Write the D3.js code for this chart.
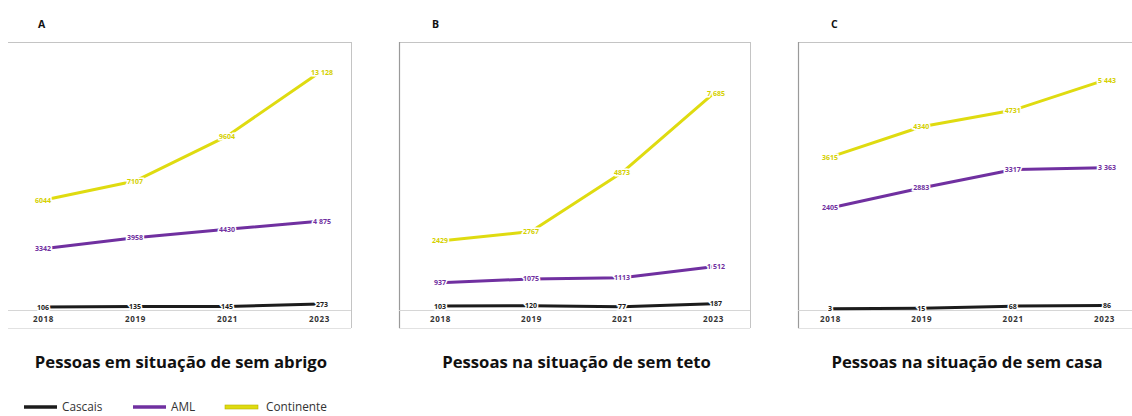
<!DOCTYPE html>
<html>
<head>
<meta charset="utf-8">
<script src="https://cdn.jsdelivr.net/npm/d3@7/dist/d3.min.js"></script>
<style>
  html, body { margin: 0; padding: 0; background: #fff; }
  svg { display: block; }
</style>
</head>
<body>
<svg id="chart" width="1132" height="416"></svg>
<script>
// Pessoas em situação de sem abrigo — Cascais, AML e Continente
const years = ["2018", "2019", "2021", "2023"];
const panelLetters = ["A", "B", "C"];
const panelTitles = [
  "Pessoas em situação de sem abrigo",
  "Pessoas na situação de sem teto",
  "Pessoas na situação de sem casa"
];
const seriesNames = ["Cascais", "AML", "Continente"];
// values per panel: [sem abrigo, sem teto, sem casa]
const cascais    = [[106, 135, 145, 273], [103, 120, 77, 187], [3, 15, 68, 86]];
const aml        = [[3342, 3958, 4430, 4875], [937, 1075, 1113, 1512], [2405, 2883, 3317, 3363]];
const continente = [[6044, 7107, 9604, 13128], [2429, 2767, 4873, 7685], [3615, 4340, 4731, 5443]];
const yMax = [14000, 9000, 6000];

// layout
const colors = { Cascais: "#1c1c1c", AML: "#7030a0", Continente: "#dfdb10" };
const frames = [
  { x0: 8,   x1: 351,  left: false },
  { x0: 399, x1: 750,  left: true },
  { x0: 798, x1: 1140, left: true }
];
const plotX = [[43, 319], [440, 713], [830, 1104]];
const frameTop = 42, frameBottom = 328, baseY = 310, yZero = 309, yTop = 57;

const svg = d3.select("#chart");
const fmtPlain = d3.format("d");
const fmtGroup = d3.formatLocale({ decimal: ",", thousands: " ", grouping: [3], currency: ["", "€"] }).format(",d");

panelTitles.forEach((title, p) => {
  const fr = frames[p];
  const g = svg.append("g");

  // frame
  const frameStroke = "#c4c4c4";
  g.append("line").attr("x1", fr.x0).attr("x2", fr.x1).attr("y1", frameTop + 0.5).attr("y2", frameTop + 0.5)
    .attr("stroke", frameStroke);
  g.append("line").attr("x1", fr.x1 + 0.5).attr("x2", fr.x1 + 0.5).attr("y1", frameTop).attr("y2", frameBottom)
    .attr("stroke", frameStroke);
  g.append("line").attr("x1", fr.x0).attr("x2", fr.x1).attr("y1", frameBottom + 0.5).attr("y2", frameBottom + 0.5)
    .attr("stroke", "#e2e2e2");
  if (fr.left) {
    g.append("line").attr("x1", fr.x0 + 0.5).attr("x2", fr.x0 + 0.5).attr("y1", frameTop).attr("y2", frameBottom)
      .attr("stroke", "#9a9a9a").attr("stroke-width", 1.2);
  }

  const x = d3.scalePoint().domain(years).range(plotX[p]);
  const y = d3.scaleLinear().domain([0, yMax[p]]).range([yZero, yTop]);

  // baseline
  g.append("line").attr("x1", fr.x0).attr("x2", fr.x1).attr("y1", baseY + 0.5).attr("y2", baseY + 0.5)
    .attr("stroke", "#d6d6d6");

  // x axis labels
  const xAxis = d3.axisBottom(x).tickSize(0).tickPadding(0);
  const ax = g.append("g").attr("transform", `translate(0,${baseY + 6})`).call(xAxis);
  ax.select(".domain").remove();
  ax.selectAll("text")
    .attr("font-family", "'Open Sans', sans-serif")
    .attr("font-size", 8).attr("font-weight", 700).attr("fill", "#333")
    .attr("letter-spacing", 0.7);

  // panel letter
  svg.append("text").attr("x", fr.x0 + (p === 0 ? 30 : 33)).attr("y", 28)
    .attr("font-family", "'Open Sans', sans-serif").attr("font-size", 10.5).attr("font-weight", 700)
    .attr("fill", "#111").text(panelLetters[p]);

  // panel title
  svg.append("text").attr("x", (plotX[p][0] + plotX[p][1]) / 2).attr("y", 368)
    .attr("text-anchor", "middle")
    .attr("font-family", "'Open Sans', sans-serif").attr("font-size", 16.7).attr("font-weight", 700)
    .attr("fill", "#111").text(title);

  const series = [
    { name: "Cascais", values: cascais[p] },
    { name: "AML", values: aml[p] },
    { name: "Continente", values: continente[p] }
  ];

  const line = d3.line().x((d, i) => x(years[i])).y(d => y(d));

  series.forEach(s => {
    g.append("path").datum(s.values).attr("d", line)
      .attr("fill", "none").attr("stroke", colors[s.name]).attr("stroke-width", 3)
      .attr("stroke-linejoin", "round");
  });

  // data labels
  series.forEach(s => {
    g.selectAll(null).data(s.values).join("text")
      .attr("x", (d, i) => x(years[i]) + (i === years.length - 1 ? 3 : 0))
      .attr("y", d => y(d))
      .attr("dy", "0.35em")
      .attr("text-anchor", "middle")
      .attr("font-family", "'Open Sans', sans-serif")
      .attr("font-size", 7).attr("font-weight", 700)
      .attr("fill", s.name === "Continente" ? "#d4d000" : colors[s.name])
      .attr("stroke", "#fff").attr("stroke-width", 3).attr("paint-order", "stroke")
      .text((d, i) => i === years.length - 1 ? fmtGroup(d) : fmtPlain(d));
  });
});

// legend
const legendX = [24, 133, 225];
const lg = svg.append("g").attr("transform", "translate(0,407)");
seriesNames.forEach((name, i) => {
  if (name === "Continente") {
    lg.append("rect").attr("x", legendX[i]).attr("y", -2).attr("width", 33).attr("height", 4)
      .attr("fill", colors[name]).attr("stroke", "#b8b400").attr("stroke-width", 0.6);
  } else {
    lg.append("line").attr("x1", legendX[i]).attr("x2", legendX[i] + 33).attr("y1", 0).attr("y2", 0)
      .attr("stroke", colors[name]).attr("stroke-width", 3.5);
  }
  lg.append("text").attr("x", legendX[i] + (name === "Continente" ? 41 : 38)).attr("y", 0).attr("dy", "0.35em")
    .attr("font-family", "'Open Sans', sans-serif").attr("font-size", 11.8).attr("fill", "#333")
    .text(name);
});
</script>
</body>
</html>
